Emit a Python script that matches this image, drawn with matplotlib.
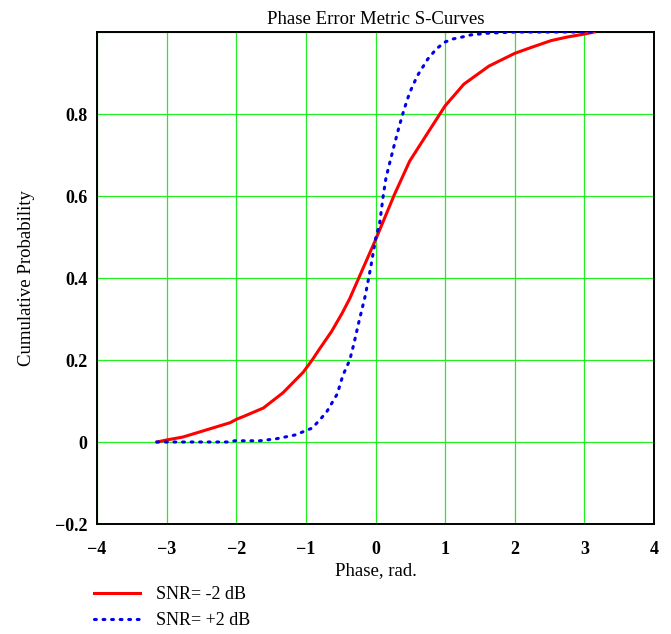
import matplotlib
matplotlib.use('Agg')
import matplotlib.pyplot as plt

plt.rcParams['font.family'] = ['Liberation Serif', 'DejaVu Serif']

# SNR = -2 dB (solid red)
phase_lo = [-3.14, -3.0, -2.77, -2.42, -2.09, -1.99, -1.9, -1.61, -1.33, -1.04,
            -0.91, -0.8, -0.63, -0.48, -0.37, 0.0, 0.27, 0.49, 0.75, 1.0,
            1.27, 1.63, 2.0, 2.23, 2.52, 2.76, 3.0, 3.14]
prob_lo = [0.0, 0.005, 0.012, 0.03, 0.047, 0.056, 0.062, 0.083, 0.12, 0.17,
           0.2, 0.228, 0.27, 0.314, 0.35, 0.493, 0.603, 0.685, 0.754, 0.82,
           0.873, 0.917, 0.948, 0.962, 0.979, 0.988, 0.995, 1.0]

# SNR = +2 dB (dotted blue)
phase_hi = [-3.14, -2.5, -2.13, -2.02, -1.66, -1.42, -1.16, -1.04, -0.91, -0.8,
            -0.7, -0.55, -0.47, -0.37, -0.31, -0.25, -0.2, -0.15, -0.07, 0.0,
            0.06, 0.11, 0.15, 0.21, 0.27, 0.34, 0.41, 0.49, 0.6, 0.75,
            0.87, 0.99, 1.11, 1.25, 1.37, 1.6, 2.0, 3.14]
prob_hi = [0.0, 0.0, 0.0, 0.003, 0.003, 0.008, 0.017, 0.025, 0.034, 0.054,
           0.074, 0.117, 0.162, 0.2, 0.24, 0.285, 0.32, 0.355, 0.425, 0.495,
           0.534, 0.6, 0.644, 0.685, 0.725, 0.77, 0.811, 0.852, 0.893, 0.934,
           0.958, 0.975, 0.983, 0.988, 0.993, 0.997, 1.0, 1.0]

xticks = [-4, -3, -2, -1, 0, 1, 2, 3, 4]
xlabels = ['\u22124', '\u22123', '\u22122', '\u22121', '0', '1', '2', '3', '4']
yticks = [-0.2, 0, 0.2, 0.4, 0.6, 0.8]
ylabels = ['\u22120.2', '0', '0.2', '0.4', '0.6', '0.8']

fig = plt.figure(figsize=(6.71, 6.34), dpi=100)
ax = fig.add_axes([0.1446, 0.1735, 0.8301, 0.776])

ax.plot(phase_lo, prob_lo, color='#ff0000', lw=2.2, label='SNR= -2 dB', zorder=3)
ax.plot(phase_hi, prob_hi, color='#0000ee', lw=2.2, linestyle=(0, (0.6, 2.2)),
        dash_capstyle='round', label='SNR= +2 dB', zorder=3)

ax.set_xlim(-4, 4)
ax.set_ylim(-0.2, 1.0)
ax.set_xticks(xticks)
ax.set_xticklabels(xlabels)
ax.set_yticks(yticks + [1.0])
ax.set_yticklabels(ylabels + [''])
for lab in ax.get_xticklabels() + ax.get_yticklabels():
    lab.set_fontweight('bold')
    lab.set_fontsize(13)
ax.tick_params(axis='both', length=0, colors='black')
ax.tick_params(axis='x', pad=12)
ax.tick_params(axis='y', pad=7)

ax.grid(True, color='#22ee22', lw=0.9)
ax.set_axisbelow(True)
for sp in ax.spines.values():
    sp.set_linewidth(1.4)
    sp.set_color('black')

ax.set_title('Phase Error Metric S-Curves', fontsize=13.5, pad=6)
ax.set_xlabel('Phase, rad.', fontsize=13.5, labelpad=3)
ax.set_ylabel('Cumulative Probability', fontsize=13.5, labelpad=14)

fig.legend(loc='upper left', bbox_to_anchor=(0.13, 0.087), frameon=False,
           fontsize=13, handlelength=2.5, handletextpad=0.9, labelspacing=0.5,
           borderaxespad=0)

fig.savefig('out.png', dpi=100)
